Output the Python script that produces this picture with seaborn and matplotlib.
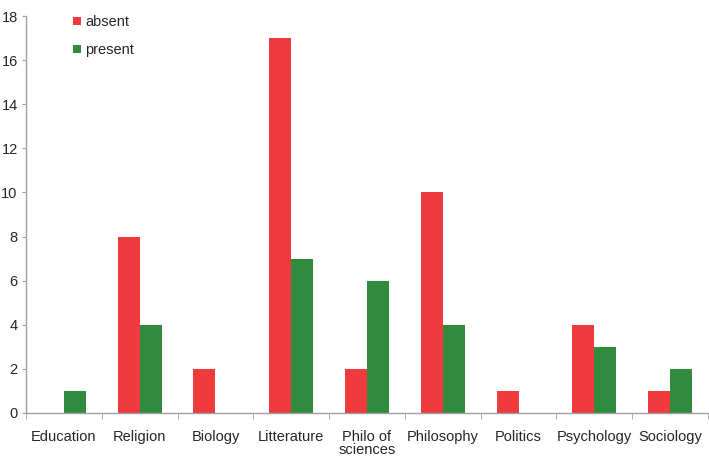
import matplotlib
matplotlib.use("Agg")
import matplotlib.pyplot as plt
import seaborn as sns
import pandas as pd
import numpy as np

categories = ["Education", "Religion", "Biology", "Litterature", "Philo of\nsciences",
              "Philosophy", "Politics", "Psychology", "Sociology"]
absent = [0, 8, 2, 17, 2, 10, 1, 4, 1]
present = [1, 4, 0, 7, 6, 4, 0, 3, 2]
series = ["absent", "present"]
colors = {"absent": "#EF3B3E", "present": "#2F8B3E"}

df = pd.DataFrame({
    "category": categories * 2,
    "series": ["absent"] * len(categories) + ["present"] * len(categories),
    "value": absent + present,
})

sns.set_style("white")
plt.rcParams["font.family"] = ["Liberation Sans", "DejaVu Sans"]

fig = plt.figure(figsize=(7.09, 4.57), dpi=100)
ax = fig.add_axes([26 / 709, 1 - 413 / 457, 682 / 709, 397 / 457])
sns.barplot(data=df, x="category", y="value", hue="series", order=categories,
            hue_order=series, palette=colors, width=0.58, gap=0, ax=ax,
            saturation=1, edgecolor="none", legend=True)

ax.set_xlim(-0.5, len(categories) - 0.5)
ax.set_ylim(0, 18)
ax.set_yticks(np.arange(0, 19, 2))
ax.set_xlabel("")
ax.set_ylabel("")
for s in ["top", "right"]:
    ax.spines[s].set_visible(False)
for s in ["left", "bottom"]:
    ax.spines[s].set_color("#a0a0a0")
    ax.spines[s].set_linewidth(1.0)
ax.tick_params(axis="y", which="major", left=True, length=3, color="#a0a0a0",
               labelsize=10.5, pad=3)
ax.tick_params(axis="x", which="major", bottom=False, labelsize=10.5, pad=8.5)
ax.set_xticks(np.arange(-0.5, len(categories) + 0.5, 1), minor=True)
ax.tick_params(axis="x", which="minor", bottom=True, length=4, color="#a0a0a0")
for lbl in ax.get_xticklabels():
    lbl.set_linespacing(0.95)

leg = ax.legend(loc="upper left", bbox_to_anchor=(0.05, 1.035), frameon=False,
                fontsize=10.5, handlelength=0.55, handleheight=0.55, handletextpad=0.25,
                labelspacing=0.95)

fig.savefig("out.png", dpi=100)
